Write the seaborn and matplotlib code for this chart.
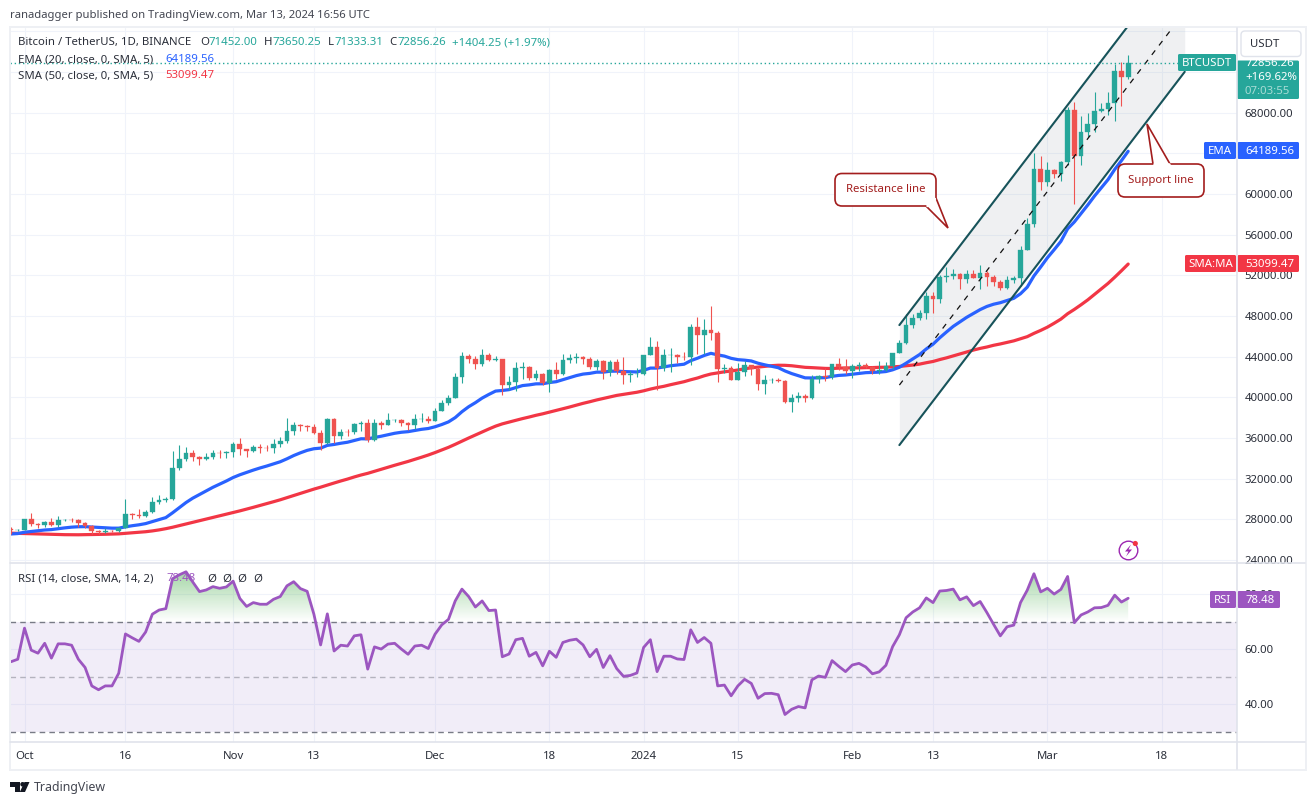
import numpy as np
import pandas as pd
import seaborn as sns
import matplotlib
matplotlib.use("Agg")
import matplotlib.pyplot as plt
from matplotlib.patches import Circle, FancyBboxPatch, Polygon, Rectangle
from matplotlib.path import Path

dates = pd.date_range("2023-09-29", "2024-03-13")

first_open = 27020
closes = [
    26906, 26962, 27992, 27494, 27426, 27778, 27412, 27931, 27956, 27917, 27591, 27391, 26873, 26756, 26862, 26852, 27154,
    28500, 28395, 28320, 28713, 29670, 29909, 29992, 33069, 33922, 34496, 34151, 33892, 34082, 34525, 34474, 34639,
    35421, 34941, 34732, 35082, 35049, 35038, 35443, 35655, 36693, 37314, 37130, 37065, 36462, 35551, 37880, 36154, 36596, 36585,
    37386, 37476, 35813, 37432, 37289, 37720, 37796, 37479, 37254, 37831, 37858, 37712,
    38688, 39476, 39978, 41980, 44080, 43773, 43292, 44170, 43713, 43789, 41253, 41492, 42869, 43022, 41941, 42278, 41374,
    42657, 42275, 43668, 43861, 43998, 43739, 43016, 43613, 42520, 43442, 42627, 42142, 42283, 42283,
    44180, 44960, 42848, 44151, 44162, 43967, 43929, 46951, 46110, 46653, 46339, 42782, 42847, 41732, 42511, 43137, 42776,
    41327, 41659, 41696, 41580, 39568, 39897, 40084, 39961, 41816, 42120, 42035, 43300, 42946, 42580,
    43082, 43200, 43011, 42582, 42708, 43098, 44349, 45288, 47132, 47751, 48294, 49958, 49699, 51795, 51912, 52123, 51642,
    52137, 51774, 52258, 51849, 51288, 50744, 51571, 51728, 54476, 57037, 62432, 61130,
    62387, 61987, 63113, 68245, 63724, 66074, 66823, 68124, 68313, 68955, 72078, 71452, 72856,
]
highs = [
    27200, 27090, 28050, 28580, 27670, 27830, 28120, 28280, 28030, 28100, 28000, 27730, 27480, 26950, 27100, 26960, 27290,
    30000, 28600, 28980, 28920, 30200, 30350, 30200, 34740, 35280, 35130, 34840, 34240, 34480, 34770, 34860, 34720,
    35570, 35980, 34950, 35260, 35380, 35290, 35880, 36100, 37970, 37530, 37400, 37240, 37420, 36760, 37980, 37970, 36840, 36840,
    37500, 37650, 37900, 37850, 37650, 38420, 37890, 37820, 37560, 38380, 38440, 38150,
    38950, 39700, 40220, 42420, 44490, 44300, 44050, 44700, 44370, 44050, 43800, 42100, 43430, 43420, 43090, 42700, 42430,
    42760, 43500, 44290, 44230, 44370, 44020, 43950, 43800, 43650, 43680, 43800, 44000, 42600, 42900,
    44180, 45880, 45500, 44770, 44800, 44230, 44500, 47250, 47890, 47700, 48970, 46500, 43250, 43080, 43400, 43570, 43200,
    42930, 42200, 41880, 41890, 41680, 40280, 40520, 40350, 42230, 42200, 42840, 43310, 43880, 43750,
    43290, 43420, 43380, 43120, 43530, 43450, 44400, 45590, 48200, 48170, 48590, 50330, 50370, 52040, 52820, 52570, 52250,
    52480, 52490, 52990, 52380, 52020, 51550, 51950, 51950, 54910, 57590, 64000, 63680,
    63150, 62430, 63230, 68500, 69000, 67640, 67990, 70000, 68920, 70000, 72800, 73000, 73650,
]
lows = [
    26600, 26890, 26950, 27300, 27150, 27200, 27350, 27200, 27860, 27700, 27260, 27130, 26530, 26560, 26700, 26800, 26800,
    27100, 28080, 28150, 28200, 28600, 29470, 29700, 29880, 32850, 33690, 33730, 33390, 33820, 33920, 34050, 34070,
    34100, 34350, 34100, 34580, 34520, 34730, 34520, 35100, 35530, 36330, 36700, 36730, 36350, 34800, 35360, 35500, 35870, 36200,
    36350, 36700, 35630, 35680, 36870, 37250, 37600, 37150, 36750, 36870, 37600, 37500,
    37630, 38650, 39200, 39950, 41420, 43340, 42820, 43080, 43600, 43580, 40220, 40680, 40650, 41800, 41660, 41650, 41250,
    40550, 41800, 42190, 43330, 43400, 43310, 42750, 42720, 41800, 42100, 42300, 41300, 41520, 41960,
    42180, 44150, 40750, 42620, 42500, 43400, 43630, 43200, 44300, 44300, 45600, 41500, 42430, 41720, 41720, 42050, 42200,
    40680, 40280, 41430, 41500, 39430, 38560, 39490, 39550, 39820, 41400, 41620, 41800, 42680, 42270,
    41880, 42580, 42880, 42250, 42260, 42570, 42790, 44330, 45240, 46800, 47550, 47700, 48300, 49250, 51300, 51620, 50620,
    51210, 51680, 50620, 50950, 50920, 50500, 50630, 51280, 50900, 54450, 56700, 60360,
    60750, 61600, 61300, 62800, 59000, 62800, 65550, 66100, 68020, 67800, 67200, 68600, 71333,
]
ema20 = [
    26560, 26600, 26730, 26800, 26860, 26950, 26990, 27080, 27160, 27230, 27270, 27280, 27240, 27190, 27160, 27130, 27130,
    27260, 27370, 27460, 27580, 27780, 27980, 28170, 28640, 29140, 29650, 30080, 30440, 30790, 31150, 31460, 31770,
    32110, 32380, 32610, 32840, 33050, 33240, 33450, 33660, 33950, 34270, 34540, 34780, 34940, 35000, 35270, 35360, 35480, 35580,
    35750, 35920, 35910, 36050, 36170, 36320, 36460, 36560, 36620, 36740, 36850, 36930,
    37100, 37320, 37580, 38000, 38580, 39070, 39470, 39920, 40280, 40610, 40670, 40750, 40950, 41150, 41220, 41320, 41330,
    41450, 41530, 41730, 41930, 42130, 42280, 42350, 42470, 42470, 42560, 42570, 42530, 42510, 42490,
    42650, 42870, 42870, 42990, 43100, 43180, 43250, 43600, 43840, 44110, 44320, 44170, 44050, 43830, 43700, 43650, 43570,
    43350, 43190, 43050, 42910, 42590, 42330, 42120, 41910, 41900, 41920, 41930, 42060, 42150, 42190,
    42270, 42360, 42420, 42440, 42470, 42530, 42700, 42950, 43350, 43770, 44200, 44750, 45220, 45850, 46420, 46970, 47410,
    47860, 48240, 48620, 48930, 49150, 49300, 49520, 49730, 50180, 50830, 51940, 52810,
    53720, 54510, 55330, 56560, 57240, 58080, 58910, 59790, 60600, 61400, 62410, 63270, 64190,
]
sma50 = [
    26640, 26620, 26600, 26570, 26550, 26530, 26510, 26500, 26490, 26480, 26480, 26490, 26500, 26510, 26530, 26550, 26570,
    26620, 26670, 26720, 26780, 26860, 26960, 27080, 27220, 27380, 27540, 27700, 27850, 28010, 28170, 28330, 28490,
    28660, 28830, 29000, 29180, 29360, 29540, 29730, 29920, 30130, 30350, 30560, 30770, 30970, 31160, 31370, 31570, 31770, 31958,
    32166, 32356, 32522, 32722, 32912, 33118, 33315, 33505, 33692, 33897, 34106, 34323,
    34562, 34814, 35077, 35374, 35686, 35994, 36293, 36602, 36883, 37161, 37386, 37554, 37733, 37904, 38060, 38228, 38374,
    38537, 38693, 38874, 39043, 39224, 39404, 39563, 39734, 39884, 40044, 40183, 40292, 40391, 40494,
    40636, 40806, 40952, 41077, 41237, 41384, 41531, 41722, 41895, 42112, 42290, 42400, 42503, 42582, 42683, 42801, 42900,
    42969, 43048, 43108, 43150, 43142, 43100, 43020, 42944, 42914, 42873, 42839, 42829, 42863, 42885,
    42889, 42893, 42914, 42920, 42947, 42956, 42997, 43029, 43094, 43169, 43260, 43399, 43521, 43707, 43876, 44066, 44256,
    44453, 44643, 44805, 44943, 45112, 45244, 45392, 45547, 45758, 45960, 46286, 46576,
    46897, 47281, 47686, 48216, 48640, 49099, 49580, 50116, 50649, 51194, 51804, 52442, 53099,
]
rsi = [
    55.4, 56.3, 67.6, 59.6, 58.5, 62.1, 56.7, 61.9, 61.9, 61.4, 56.3, 53.3, 46.6, 45.2, 46.6, 46.6, 51.2,
    65.5, 64.1, 62.8, 66.2, 72.7, 74.2, 74.7, 85.6, 87.0, 88.1, 84.4, 80.9, 81.5, 82.7, 82.1, 82.6,
    84.7, 78.4, 75.5, 76.9, 76.3, 76.3, 78.1, 79.1, 83.0, 84.5, 82.0, 81.0, 72.7, 61.5, 72.8, 59.3, 61.4, 61.1,
    64.8, 65.2, 52.7, 60.8, 60.0, 61.8, 62.1, 60.0, 58.1, 61.1, 61.4, 60.2,
    65.4, 68.8, 70.8, 77.5, 81.8, 79.1, 75.3, 77.5, 74.0, 74.2, 57.2, 58.2, 63.4, 63.9, 57.4, 58.8, 53.9,
    59.2, 57.0, 62.4, 63.2, 63.6, 61.5, 57.2, 59.9, 53.3, 57.6, 52.9, 50.1, 50.4, 51.3,
    60.6, 63.4, 51.8, 57.4, 57.4, 56.4, 56.2, 67.0, 62.4, 64.2, 62.1, 46.6, 46.9, 43.0, 46.6, 49.0, 47.5,
    42.1, 43.8, 43.9, 43.4, 36.2, 38.1, 39.1, 38.6, 48.8, 50.2, 49.7, 55.8, 53.7, 51.8,
    54.2, 54.8, 53.5, 51.0, 51.7, 54.1, 60.9, 65.2, 71.4, 73.5, 75.0, 78.6, 76.9, 81.1, 81.3, 81.8, 77.9,
    79.0, 75.8, 77.3, 73.3, 69.0, 64.8, 68.1, 68.7, 76.9, 81.4, 87.4, 80.8,
    82.1, 80.0, 81.7, 86.4, 69.6, 72.4, 73.5, 75.0, 75.1, 75.9, 79.6, 77.1, 78.48,
]
channel_days = [130, 172.4]
channel_upper = [47100, 83800]
channel_mid = [41200, 77900]
channel_lower = [35300, 72000]

price_ticks = [24000 + 4000 * i for i in range(14)]
price_labels = ["" if t in (64000, 72000, 76000) else f"{t:.2f}" for t in price_ticks]
rsi_ticks = [40, 60, 80]
time_ticks = ["2023-10-01", "2023-10-16", "2023-11-01", "2023-11-13", "2023-12-01", "2023-12-18",
              "2024-01-01", "2024-01-15", "2024-02-01", "2024-02-13", "2024-03-01", "2024-03-18"]
time_labels = ["Oct", "16", "Nov", "13", "Dec", "18", "2024", "15", "Feb", "13", "Mar", "18"]

UP = "#26a69a"
DOWN = "#ef5350"
BLUE = "#2962ff"
RED = "#f23645"
PURPLE = "#9c56c0"
GRID = "#f0f3fa"
EDGE = "#e0e3eb"
INK = "#2a2e39"
CHANNEL = "#17535a"
BUBBLE = "#a31d1d"
FONT = 8.2

sns.set_theme(style="white")
plt.rcParams["font.family"] = ["Noto Sans", "DejaVu Sans"]

W, H = 1315, 805
fig = plt.figure(figsize=(W / 100, H / 100), dpi=100)


def rect(x0, y0, x1, y1):
    return [x0 / W, 1 - y1 / H, (x1 - x0) / W, (y1 - y0) / H]


day0 = pd.Timestamp("2023-10-01")
df = pd.DataFrame({
    "day": (dates - day0).days,
    "close": closes,
    "high": highs,
    "low": lows,
    "ema": ema20,
    "sma": sma50,
    "rsi": rsi,
})
df["open"] = [first_open] + closes[:-1]
tick_days = [(pd.Timestamp(d) - day0).days for d in time_ticks]

# price panel
ax = fig.add_axes(rect(10, 28, 1237, 563))
ax.set_xlim(-2.155, 180.17)
ax.set_ylim(23705, 76310)
ax.set_axisbelow(True)
ax.grid(True, color=GRID, linewidth=0.8)
ax.set_xticks(tick_days)
ax.set_xticklabels([])
ax.set_yticks(price_ticks)
ax.set_yticklabels(price_labels, fontsize=FONT, color=INK)
ax.yaxis.tick_right()
ax.tick_params(axis="both", length=0)
ax.tick_params(axis="y", pad=5.5)
for s in ax.spines.values():
    s.set_visible(False)

ax.fill_between(channel_days, channel_lower, channel_upper, color="#6f7f8f", alpha=0.11, linewidth=0, zorder=1)
sns.lineplot(data=df, x="day", y="sma", ax=ax, color=RED, linewidth=2.3, estimator=None, errorbar=None, zorder=2)
sns.lineplot(data=df, x="day", y="ema", ax=ax, color=BLUE, linewidth=2.3, estimator=None, errorbar=None, zorder=2)

up = df["close"] >= df["open"]
colors = np.where(up, UP, DOWN)
ax.vlines(df["day"], df["low"], df["high"], colors=colors, linewidth=0.8, zorder=3)
ax.bar(df["day"], (df["close"] - df["open"]).abs(), bottom=df[["open", "close"]].min(axis=1), width=0.7,
       color=colors, edgecolor=colors, linewidth=0.25, zorder=3)

ax.plot(channel_days, channel_upper, color=CHANNEL, linewidth=1.5, zorder=4)
ax.plot(channel_days, channel_lower, color=CHANNEL, linewidth=1.5, zorder=4)
ax.plot(channel_days, channel_mid, color="#111111", linewidth=0.9, dashes=(4.5, 5), zorder=4)
ax.axhline(closes[-1], color=UP, linewidth=1, linestyle=(0, (1, 2)), xmax=0.9615, zorder=4)
ax.set_xlabel("")
ax.set_ylabel("")

# rsi panel
ax2 = fig.add_axes(rect(10, 563, 1237, 742))
ax2.set_xlim(-2.155, 180.17)
ax2.set_ylim(26.2, 91.3)
ax2.set_axisbelow(True)
ax2.grid(True, color=GRID, linewidth=0.8)
ax2.set_xticks(tick_days)
ax2.set_xticklabels(time_labels, fontsize=FONT, color=INK)
ax2.get_xticklabels()[6].set_fontweight("bold")
ax2.set_yticks(rsi_ticks)
ax2.set_yticklabels([f"{t:.2f}" for t in rsi_ticks], fontsize=FONT, color=INK)
ax2.yaxis.tick_right()
ax2.tick_params(axis="both", length=0)
ax2.tick_params(axis="y", pad=5.5)
ax2.tick_params(axis="x", pad=6.5)
for s in ax2.spines.values():
    s.set_visible(False)

ax2.axhspan(30, 70, color="#7e57c2", alpha=0.1, linewidth=0, zorder=1)
ax2.axhline(70, color="#787b86", linewidth=1, dashes=(4, 3), zorder=2)
ax2.axhline(30, color="#787b86", linewidth=1, dashes=(4, 3), zorder=2)
ax2.axhline(50, color="#787b86", linewidth=1, alpha=0.5, dashes=(4, 3), zorder=2)

# green gradient where rsi is above 70
above = ax2.fill_between(df["day"], df["rsi"], 70, where=df["rsi"] >= 70, interpolate=True, facecolor="none", linewidth=0)
compound = Path.make_compound_path(*above.get_paths())
shade = np.linspace(0.55, 0, 64).reshape(-1, 1)
rgba = np.ones((64, 1, 4))
rgba[..., 0] = 76 / 255
rgba[..., 1] = 175 / 255
rgba[..., 2] = 80 / 255
rgba[..., 3] = shade
img = ax2.imshow(rgba, extent=[-2.155, 180.17, 70, 90], aspect="auto", origin="upper", zorder=2.5)
img.set_clip_path(compound, transform=ax2.transData)
ax2.set_xlim(-2.155, 180.17)
ax2.set_ylim(26.2, 91.3)

sns.lineplot(data=df, x="day", y="rsi", ax=ax2, color=PURPLE, linewidth=2, estimator=None, errorbar=None, zorder=3)
ax2.set_xlabel("")
ax2.set_ylabel("")

# overlay in pixel coordinates for the chrome
ov = fig.add_axes([0, 0, 1, 1], zorder=10)
ov.set_xlim(0, W)
ov.set_ylim(H, 0)
ov.axis("off")


def label(x, y, s, color=INK, size=FONT, ha="left", weight="normal"):
    ov.text(x, y + 0.8, s, color=color, fontsize=size, ha=ha, va="center", fontweight=weight)


def box(x0, y0, x1, y1, color, round_px=1.5, edge="none", lw=0):
    ov.add_patch(FancyBboxPatch((x0 + round_px, y0 + round_px), x1 - x0 - 2 * round_px, y1 - y0 - 2 * round_px,
                                boxstyle=f"round,pad={round_px},rounding_size={round_px}",
                                facecolor=color, edgecolor=edge, linewidth=lw))


# frame and separators
for x0, y0, x1, y1 in [(9, 26, 1306, 28), (9, 769, 1306, 771), (9, 26, 11, 771), (1305, 26, 1307, 771)]:
    ov.add_patch(Rectangle((x0, y0), x1 - x0, y1 - y0, facecolor="#eef0f4", edgecolor="none"))
ov.plot([10, 1305], [563, 563], color=EDGE, linewidth=1.2)
ov.plot([10, 1305], [742, 742], color=EDGE, linewidth=1.2)
ov.plot([1237, 1237], [28, 769], color=EDGE, linewidth=1.2)

# header and legends
label(10, 15, "ranadagger published on TradingView.com, Mar 13, 2024 16:56 UTC", color="#434651", size=8.1)
label(18, 42, "Bitcoin / TetherUS, 1D, BINANCE")
for x, s in [(200, "O"), (264, "H"), (328, "L"), (389, "C")]:
    label(x, 42, s)
for x, s in [(208, "71452.00"), (272, "73650.25"), (334, "71333.31"), (397, "72856.26"), (452, "+1404.25 (+1.97%)")]:
    label(x, 42, s, color=UP)
label(18, 59, "EMA (20, close, 0, SMA, 5)")
label(165, 59, "64189.56", color=BLUE)
label(18, 75, "SMA (50, close, 0, SMA, 5)")
label(165, 75, "53099.47", color=RED)
label(18, 578, "RSI (14, close, SMA, 14, 2)")
label(166, 578, "78.48", color=PURPLE)
for x in (207, 222, 237, 253):
    label(x, 578, "Ø")

# clip the 24000 label at the panel edge
ov.add_patch(Rectangle((1238, 564), 66, 8, facecolor="white", edgecolor="none"))

# right scale tags
box(1237, 60.5, 1299, 99, UP)
label(1245, 63, "72856.26", color="white")
label(1245, 77, "+169.62%", color="white")
label(1245, 91, "07:03:55", color="#a8dcd5")
ov.add_patch(Rectangle((1238, 56), 64, 4.5, facecolor="white", edgecolor="none"))
box(1241, 31, 1301, 56.5, "white", round_px=4, edge=EDGE, lw=1)
label(1250, 44, "USDT")
box(1178, 54, 1236, 71, UP)
label(1207, 62.5, "BTCUSDT", color="white", ha="center")
box(1204, 142, 1236, 159, BLUE)
label(1220, 150.5, "EMA", color="white", ha="center")
box(1237.5, 142, 1299, 159, BLUE)
label(1245, 150.5, "64189.56", color="white")
box(1185, 255, 1236, 272, RED)
label(1210.5, 263.5, "SMA:MA", color="white", ha="center")
box(1237.5, 255, 1299, 272, RED)
label(1245, 263.5, "53099.47", color="white")
box(1210, 591, 1236, 608, PURPLE)
label(1223, 599.5, "RSI", color="white", ha="center")
box(1237.5, 591, 1280, 608, PURPLE)
label(1245, 599.5, "78.48", color="white")

# callouts
box(835, 173.5, 936, 206, "white", round_px=7, edge=BUBBLE, lw=1.2)
ov.add_patch(Polygon([(936, 198), (948, 228), (926, 206)], closed=False, facecolor="white", edgecolor=BUBBLE, linewidth=1.2))
ov.plot([927.5, 935], [206, 199], color="white", linewidth=1.8)
label(885.5, 189, "Resistance line", color=BUBBLE, ha="center")
box(1118, 164, 1204, 197, "white", round_px=7, edge=BUBBLE, lw=1.2)
ov.add_patch(Polygon([(1153, 164), (1147, 124), (1170, 164)], closed=False, facecolor="white", edgecolor=BUBBLE, linewidth=1.2))
ov.plot([1154, 1169], [164, 164], color="white", linewidth=1.8)
label(1161, 180, "Support line", color=BUBBLE, ha="center")

# bolt icon
ov.add_patch(Circle((1128.5, 550.5), 9.3, facecolor="white", edgecolor="#9c27b0", linewidth=1))
ov.add_patch(Polygon([(1131, 544.5), (1125, 551.5), (1128.5, 551.5), (1126, 556.5), (1132, 549.5), (1128.5, 549.5)],
                     closed=True, facecolor="#9c27b0", edgecolor="none"))
ov.add_patch(Circle((1135.3, 543.5), 2.6, facecolor=RED, edgecolor="none"))

# TradingView logo
ov.add_patch(Polygon([(10, 782), (20, 782), (20, 792), (15, 792), (15, 786.8), (10, 786.8)], closed=True, facecolor="#131722", edgecolor="none"))
ov.add_patch(Circle((22.6, 784.3), 2.3, facecolor="#131722", edgecolor="none"))
ov.add_patch(Polygon([(29.5, 782), (25, 792), (19.8, 792), (24.5, 782)], closed=True, facecolor="#131722", edgecolor="none"))
label(34, 786.5, "TradingView", color="#434651", size=8.9)

fig.savefig("out.png", dpi=100, facecolor="white")
